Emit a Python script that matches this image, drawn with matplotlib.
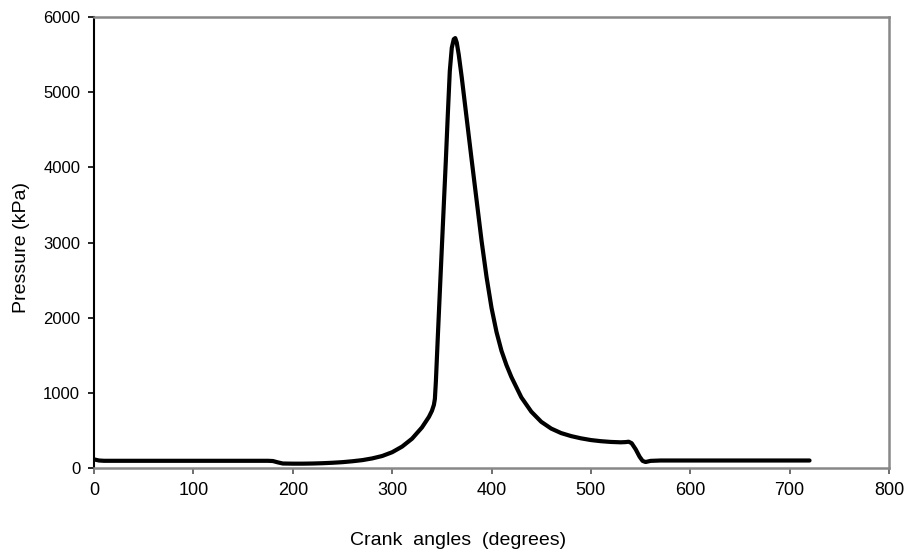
import numpy as np
import matplotlib
matplotlib.use("Agg")
import matplotlib.pyplot as plt

plt.rcParams['font.family'] = ['Liberation Sans', 'DejaVu Sans']

# crank angle (deg) and cylinder pressure (kPa)
crank_angle = [0, 5, 10, 50, 100, 150, 175, 180, 185, 190, 200, 210, 220, 230,
               240, 250, 260, 270, 280, 290, 300, 310, 320, 330, 337, 340, 342,
               343, 344, 346, 348, 351, 354, 356, 358, 360, 362, 363.5, 365, 367,
               370, 375, 380, 385, 390, 395, 400, 405, 410, 415, 420, 430, 440,
               450, 460, 470, 480, 490, 500, 510, 520, 530, 535, 538, 541, 545,
               549, 552, 555, 560, 570, 600, 650, 700, 720]
pressure = [115, 100, 96, 96, 96, 96, 96, 93, 75, 60, 58, 58, 60, 64,
            70, 78, 90, 105, 128, 160, 210, 285, 390, 540, 680, 760, 840,
            920, 1150, 1760, 2350, 3220, 4085, 4700, 5280, 5590, 5705, 5720, 5660, 5500,
            5200, 4650, 4100, 3560, 3020, 2540, 2130, 1810, 1560, 1370, 1210, 940, 750,
            615, 525, 465, 425, 395, 372, 357, 347, 342, 345, 350, 330, 250,
            150, 95, 80, 95, 100, 100, 100, 100, 100]

x_ticks = [0, 100, 200, 300, 400, 500, 600, 700, 800]
y_ticks = [0, 1000, 2000, 3000, 4000, 5000, 6000]

fig = plt.figure(figsize=(9.11, 5.51), dpi=100)
ax = fig.add_axes([0.1032, 0.1506, 0.8727, 0.8185])

ax.plot(crank_angle, pressure, color='black', lw=3, solid_capstyle='round',
        solid_joinstyle='round')

ax.set_xlim(0, 800)
ax.set_ylim(0, 6000)
ax.set_xticks(x_ticks)
ax.set_yticks(y_ticks)
ax.tick_params(axis='x', direction='out', length=4, width=1.2, colors='#555555',
               labelcolor='black', labelsize=13, pad=6)
ax.tick_params(axis='y', direction='out', length=4, width=1.2, colors='black',
               labelsize=12, pad=6)

for side in ['top', 'right', 'bottom']:
    ax.spines[side].set_color('#888888')
    ax.spines[side].set_linewidth(1.8)
ax.spines['left'].set_color('black')
ax.spines['left'].set_linewidth(1.5)

ax.set_xlabel('Crank  angles  (degrees)', fontsize=14)
ax.xaxis.set_label_coords(0.458, -0.142)
ax.set_ylabel('Pressure (kPa)', fontsize=14)
ax.yaxis.set_label_coords(-0.08, 0.49)

fig.savefig('out.png', dpi=100)
